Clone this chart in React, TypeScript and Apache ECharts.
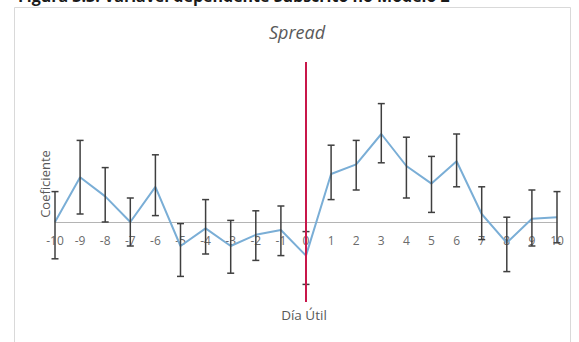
import React, { useEffect, useRef } from "react";
import * as echarts from "echarts";

const days = ["-10", "-9", "-8", "-7", "-6", "-5", "-4", "-3", "-2", "-1", "0", "1", "2", "3", "4", "5", "6", "7", "8", "9", "10"];
const coef = [0.0, 0.28, 0.16, 0.0, 0.22, -0.15, -0.04, -0.15, -0.08, -0.05, -0.21, 0.30, 0.36, 0.55, 0.35, 0.24, 0.38, 0.05, -0.13, 0.02, 0.03];
const upper = [0.19, 0.51, 0.34, 0.15, 0.42, -0.01, 0.14, 0.01, 0.07, 0.10, -0.06, 0.48, 0.51, 0.74, 0.53, 0.41, 0.55, 0.22, 0.03, 0.20, 0.19];
const lower = [-0.23, 0.05, 0.0, -0.15, 0.04, -0.34, -0.20, -0.32, -0.24, -0.21, -0.39, 0.14, 0.20, 0.37, 0.15, 0.06, 0.22, -0.11, -0.31, -0.15, -0.13];
const eventDay = "0";
const yMin = -0.5;
const yMax = 1.0;

const captionText = "Figura 3.3: Variável dependente Subscrito no Modelo 2";
const titleText = "Spread";
const yName = "Coeficiente";
const xName = "Día Útil";

const FONT = "'Open Sans', 'Noto Sans', sans-serif";

const GRID_TOP = 62;
const GRID_BOTTOM = 40;
const CHART_H = 342;

export default function App() {
  const ref = useRef<HTMLDivElement>(null);
  useEffect(() => {
    if (!ref.current) return;
    const chart = echarts.init(ref.current, null, { renderer: "svg" });
    const errData = days.map((d, i) => [i, lower[i], upper[i]]);
    // move the x axis (line + labels) up to the zero level of the y scale
    const plotH = CHART_H - GRID_TOP - GRID_BOTTOM;
    const zeroOffset = -plotH * (0 - yMin) / (yMax - yMin);
    chart.setOption({
      animation: false,
      backgroundColor: "#ffffff",
      textStyle: { fontFamily: FONT },
      grid: { left: 55, right: 22, top: GRID_TOP, bottom: GRID_BOTTOM, containLabel: false },
      xAxis: {
        type: "category",
        data: days,
        boundaryGap: false,
        offset: zeroOffset,
        axisLine: { onZero: false, lineStyle: { color: "#b4b4b4", width: 1 } },
        axisTick: { show: false },
        axisLabel: { color: "#6b6b6b", fontSize: 12, margin: 12, fontFamily: FONT, interval: 0 },
        splitLine: { show: false },
      },
      yAxis: {
        type: "value",
        min: yMin,
        max: yMax,
        axisLine: { show: false },
        axisTick: { show: false },
        axisLabel: { show: false },
        splitLine: { show: false },
      },
      graphic: [
        {
          type: "rect",
          shape: { x: 14.5, y: 7.5, width: 556, height: 400 },
          style: { fill: "none", stroke: "#d9d9d9", lineWidth: 1 },
          silent: true,
        },
        {
          type: "text",
          x: 18,
          y: 4,
          style: {
            text: captionText,
            fontSize: 16,
            fontWeight: "bold",
            fill: "#1a1a1a",
            fontFamily: FONT,
            textVerticalAlign: "bottom",
          },
        },
        {
          type: "text",
          x: 297,
          y: 32,
          style: {
            text: titleText,
            fontSize: 18,
            fontStyle: "italic",
            fill: "#595959",
            fontFamily: FONT,
            textAlign: "center",
            textVerticalAlign: "middle",
          },
        },
        {
          type: "text",
          x: 45,
          y: 184,
          rotation: Math.PI / 2,
          style: {
            text: yName,
            fontSize: 13,
            fill: "#595959",
            fontFamily: FONT,
            textAlign: "center",
            textVerticalAlign: "middle",
          },
        },
        {
          type: "text",
          x: 304,
          y: 315,
          style: {
            text: xName,
            fontSize: 13.5,
            fill: "#595959",
            fontFamily: FONT,
            textAlign: "center",
            textVerticalAlign: "middle",
          },
        },
      ],
      series: [
        {
          type: "line",
          data: coef,
          showSymbol: false,
          symbol: "none",
          lineStyle: { color: "#7aaed6", width: 2 },
          z: 2,
          markLine: {
            silent: true,
            symbol: "none",
            label: { show: false },
            lineStyle: { color: "#c8174a", width: 2, type: "solid" },
            data: [{ xAxis: eventDay }],
          },
        },
        {
          type: "custom",
          data: errData,
          z: 3,
          encode: { x: 0, y: [1, 2] },
          renderItem: (params: any, api: any) => {
            const idx = api.value(0);
            const lo = api.coord([idx, api.value(1)]);
            const hi = api.coord([idx, api.value(2)]);
            const hw = 3.5;
            const style = { stroke: "#3f3f3f", lineWidth: 1.5 };
            return {
              type: "group",
              children: [
                { type: "line", shape: { x1: hi[0], y1: hi[1], x2: lo[0], y2: lo[1] }, style },
                { type: "line", shape: { x1: hi[0] - hw, y1: hi[1], x2: hi[0] + hw, y2: hi[1] }, style },
                { type: "line", shape: { x1: lo[0] - hw, y1: lo[1], x2: lo[0] + hw, y2: lo[1] }, style },
              ],
            };
          },
        },
      ],
    });
    return () => chart.dispose();
  }, []);
  return (
    <div
      ref={ref}
      style={{ position: "fixed", left: 0, top: 0, width: 579, height: 342 }}
    />
  );
}
